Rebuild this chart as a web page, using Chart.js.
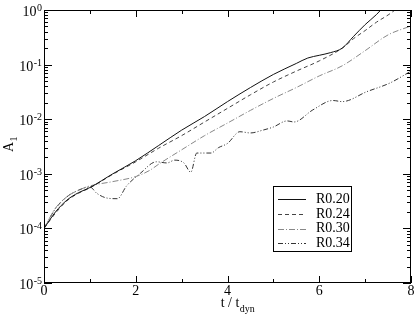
<!DOCTYPE html>
<html>
<head>
<meta charset="utf-8">
<script src="https://cdn.jsdelivr.net/npm/chart.js@4/dist/chart.umd.min.js"></script>
<style>
html,body{margin:0;padding:0;background:#fff;}
#wrap{width:415px;height:320px;position:relative;}
</style>
</head>
<body>
<div id="wrap"><canvas id="c" width="415" height="320"></canvas></div>
<script>
// ---- data ----
const seriesNames = ["R0.20", "R0.24", "R0.30", "R0.34"];

const tR020 = [0,0.25,0.5,0.75,1.0,1.5,2.0,2.5,3.0,3.5,4.0,4.5,5.0,5.5,5.75,6.0,6.25,6.5,6.75,7.0,7.25,7.5];
const aR020 = [1.0e-4,2.0e-4,3.3e-4,4.5e-4,5.6e-4,1.0e-3,1.74e-3,3.3e-3,6.3e-3,1.12e-2,2.1e-2,3.8e-2,6.6e-2,0.105,0.132,0.148,0.166,0.20,0.33,0.54,0.83,1.4];

const tR024 = [0,0.25,0.5,0.75,1.0,1.5,2.0,2.5,3.0,3.5,4.0,4.5,5.0,5.5,6.0,6.5,6.75,7.0,7.25,7.5,7.75];
const aR024 = [1.0e-4,1.9e-4,3.2e-4,4.4e-4,5.5e-4,9.8e-4,1.66e-3,2.95e-3,5.0e-3,8.9e-3,1.58e-2,2.8e-2,4.8e-2,7.6e-2,0.117,0.20,0.30,0.42,0.60,0.81,1.15];

const tR030 = [0,0.25,0.5,0.75,1.0,1.5,2.0,2.3,2.5,3.0,3.5,4.0,4.5,5.0,5.5,6.0,6.5,7.0,7.5,8.0];
const aR030 = [1.0e-4,2.35e-4,3.8e-4,5.0e-4,6.0e-4,7.2e-4,8.9e-4,1.15e-3,1.5e-3,2.75e-3,5.0e-3,8.5e-3,1.45e-2,2.4e-2,3.8e-2,6.2e-2,9.5e-2,0.18,0.35,0.51];

const tR034 = [0,0.25,0.5,0.75,1.0,1.15,1.37,1.6,1.8,2.1,2.45,2.68,2.85,3.05,3.2,3.33,3.64,3.8,4.0,4.27,4.5,4.77,5.0,5.3,5.45,5.86,6.3,6.5,7.04,7.54,8.0];
const aR034 = [1.0e-4,2.3e-4,3.8e-4,5.0e-4,5.75e-4,4.4e-4,3.6e-4,3.5e-4,6.0e-4,1.02e-3,1.66e-3,1.58e-3,1.78e-3,1.58e-3,1.07e-3,2.4e-3,2.4e-3,3.0e-3,3.6e-3,5.9e-3,5.6e-3,6.3e-3,7.2e-3,9.3e-3,8.9e-3,1.48e-2,2.2e-2,2.1e-2,3.2e-2,4.6e-2,7.6e-2];

const xMajorTicks = [0, 2, 4, 6, 8];
const xMinorTicks = [1, 3, 5, 7];
const yDecadeExps = [-5, -4, -3, -2, -1, 0];

// ---- styles ----
const styles = [
  {color:'#111', dash:[]},
  {color:'#444', dash:[4,3]},
  {color:'#888', dash:[6,2,1,2]},
  {color:'#333', dash:[5,2,1,2,1,2]}
];
const SERIF = '"Liberation Serif", "DejaVu Serif", serif';

function pts(ts, as){ return ts.map((t,i)=>({x:t, y:as[i]})); }
const allT = [tR020, tR024, tR030, tR034];
const allA = [aR020, aR024, aR030, aR034];

const datasets = seriesNames.map((n,i)=>({
  label:n,
  data:pts(allT[i], allA[i]),
  borderColor:styles[i].color,
  borderDash:styles[i].dash,
  borderWidth:1,
  pointRadius:0,
  fill:false,
  cubicInterpolationMode:'monotone',
  clip:0
}));

const decor = {
  id:'decor',
  afterDraw(chart){
    const ctx = chart.ctx, a = chart.chartArea;
    const xs = chart.scales.x, ys = chart.scales.y;
    ctx.save();
    ctx.strokeStyle = '#000';
    ctx.lineWidth = 1;
    // frame
    ctx.strokeRect(Math.round(a.left)+0.5, Math.round(a.top)+0.5, Math.round(a.right-a.left)-1, Math.round(a.bottom-a.top)-1);
    // x ticks (inward, bottom and top)
    ctx.beginPath();
    const xt = (v, len)=>{
      const px = Math.round(xs.getPixelForValue(v))+0.5;
      ctx.moveTo(px, a.bottom); ctx.lineTo(px, a.bottom-len);
      ctx.moveTo(px, a.top); ctx.lineTo(px, a.top+len);
    };
    xMajorTicks.forEach(v=>xt(v,7));
    xMinorTicks.forEach(v=>xt(v,4));
    // y ticks (inward, left and right)
    const yt = (v, len)=>{
      const py = Math.round(ys.getPixelForValue(v))+0.5;
      ctx.moveTo(a.left, py); ctx.lineTo(a.left+len, py);
      ctx.moveTo(a.right, py); ctx.lineTo(a.right-len, py);
    };
    yDecadeExps.forEach(e=>{
      yt(Math.pow(10,e), 8);
      if (e < 0) for (let k=2;k<=9;k++) yt(k*Math.pow(10,e), 4);
    });
    ctx.stroke();

    // y labels 10^e
    ctx.fillStyle = '#000';
    ctx.textBaseline = 'alphabetic';
    yDecadeExps.forEach(e=>{
      const py = ys.getPixelForValue(Math.pow(10,e));
      const sup = String(e);
      ctx.font = '10px ' + SERIF;
      const sw = ctx.measureText(sup).width;
      const right = a.left - 2;
      ctx.textAlign = 'left';
      ctx.fillText(sup, right - sw, py + 1);
      ctx.font = '14px ' + SERIF;
      ctx.textAlign = 'right';
      ctx.fillText('10', right - sw - 0.5, py + 6);
    });

    // y title A_1 (rotated)
    ctx.save();
    ctx.translate(13, 152);
    ctx.rotate(-Math.PI/2);
    ctx.textAlign = 'left';
    ctx.font = '14px ' + SERIF;
    ctx.fillText('A', 0, 0);
    const aw = ctx.measureText('A').width;
    ctx.font = '10px ' + SERIF;
    ctx.fillText('1', aw + 0.5, 4);
    ctx.restore();

    // x title t / t_dyn
    ctx.font = '14px ' + SERIF;
    const w1 = ctx.measureText('t / t').width;
    ctx.font = '10px ' + SERIF;
    const w2 = ctx.measureText('dyn').width;
    const cx = (a.left + a.right)/2 + 10;
    const x0 = cx - (w1 + w2)/2;
    ctx.textAlign = 'left';
    ctx.font = '14px ' + SERIF;
    ctx.fillText('t / t', x0, 307);
    ctx.font = '10px ' + SERIF;
    ctx.fillText('dyn', x0 + w1 + 0.5, 312);

    // legend
    const lx = 273.5, ly = 186.5, lw = 78, lh = 65;
    ctx.fillStyle = '#fff';
    ctx.fillRect(lx, ly, lw, lh);
    ctx.strokeStyle = '#000';
    ctx.strokeRect(lx, ly, lw, lh);
    const rows = [199, 214, 228.5, 243];
    datasets.forEach((d,i)=>{
      ctx.save();
      ctx.strokeStyle = d.borderColor;
      ctx.setLineDash(d.borderDash);
      ctx.beginPath();
      ctx.moveTo(278, Math.round(rows[i])+0.5);
      ctx.lineTo(306, Math.round(rows[i])+0.5);
      ctx.stroke();
      ctx.restore();
      ctx.fillStyle = '#000';
      ctx.font = '14px ' + SERIF;
      ctx.textAlign = 'left';
      ctx.textBaseline = 'middle';
      ctx.fillText(d.label, 316, rows[i]);
    });
    ctx.restore();
  }
};

new Chart(document.getElementById('c'), {
  type:'line',
  data:{datasets},
  options:{
    responsive:false,
    animation:false,
    devicePixelRatio:1,
    layout:{padding:{top:10, right:4, left:0, bottom:0}},
    plugins:{legend:{display:false}, tooltip:{enabled:false}},
    scales:{
      x:{
        type:'linear', min:0, max:8,
        afterBuildTicks:(s)=>{ s.ticks = xMajorTicks.map(v=>({value:v})); },
        ticks:{font:{family:SERIF, size:14}, color:'#000', padding:0, maxRotation:0,
               callback:(v)=>String(v)},
        grid:{display:false, drawTicks:false},
        border:{display:false},
        afterFit:(s)=>{ s.height = 37; }
      },
      y:{
        type:'logarithmic', min:1e-5, max:1,
        ticks:{display:false},
        grid:{display:false, drawTicks:false},
        border:{display:false},
        afterFit:(s)=>{ s.width = 44; }
      }
    }
  },
  plugins:[decor]
});
</script>
</body>
</html>
